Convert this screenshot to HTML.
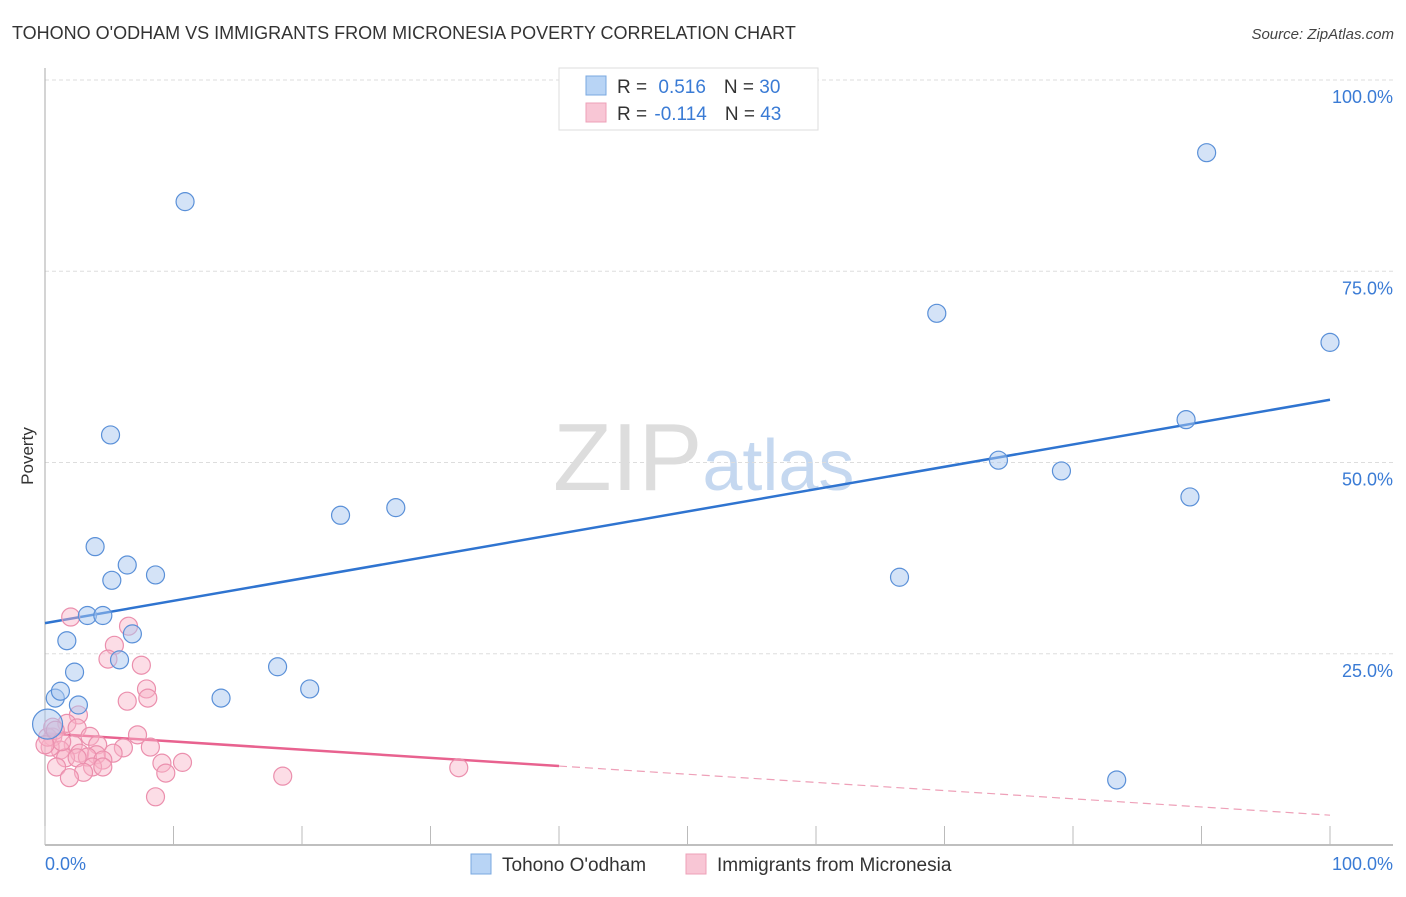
<!DOCTYPE html>
<html><head><meta charset="utf-8"><style>
body{margin:0;background:#fff;font-family:"Liberation Sans",sans-serif;}
svg text{font-family:"Liberation Sans",sans-serif;}
</style></head><body>
<svg id="chart" width="1406" height="892" xmlns="http://www.w3.org/2000/svg">
<text x="12" y="39" font-size="18" fill="#333">TOHONO O'ODHAM VS IMMIGRANTS FROM MICRONESIA POVERTY CORRELATION CHART</text>
<text x="1394" y="39" font-size="15" fill="#444" font-style="italic" text-anchor="end">Source: ZipAtlas.com</text>
<text x="553" y="490" font-size="96" font-family="Liberation Serif" fill="#ddd">ZIP<tspan fill="#c5d8f0" font-family="Liberation Sans" font-size="72">atlas</tspan></text>
<g id="grid"></g>
<g id="axes"></g>
<g id="trends"></g>
<g id="points"></g>
<text transform="translate(33,456) rotate(-90)" font-size="17" fill="#333" text-anchor="middle">Poverty</text>
<g>
<rect x="559" y="68" width="259" height="62" fill="#fff" stroke="#ddd"/>
<rect x="586" y="76" width="20" height="19" fill="#b8d4f5" stroke="#7aa8e0"/>
<rect x="586" y="103" width="20" height="19" fill="#f8c6d5" stroke="#eea0b8"/>
<text x="617" y="93" font-size="19" fill="#333">R = <tspan fill="#3a7bd5" dx="6">0.516</tspan><tspan dx="18" fill="#333">N = </tspan><tspan fill="#3a7bd5">30</tspan></text>
<text x="617" y="120" font-size="19" fill="#333">R = <tspan fill="#3a7bd5" dx="2">-0.114</tspan><tspan dx="18" fill="#333">N = </tspan><tspan fill="#3a7bd5">43</tspan></text>
</g>
<g>
<rect x="471" y="854" width="20" height="20" fill="#b8d4f5" stroke="#7aa8e0"/>
<text x="502" y="871" font-size="19" fill="#333">Tohono O'odham</text>
<rect x="686" y="854" width="20" height="20" fill="#f8c6d5" stroke="#eea0b8"/>
<text x="717" y="871" font-size="19" fill="#333">Immigrants from Micronesia</text>
</g>
</svg>
<script>
const yTicks=[25,50,75,100];
const yTickLabels=["25.0%","50.0%","75.0%","100.0%"];
const xTicks=[0,10,20,30,40,50,60,70,80,90,100];
const blueX=[10.9,90.4,69.4,100,5.1,88.8,74.2,79.1,89.1,23.0,27.3,3.9,6.4,5.2,8.6,66.5,3.3,4.5,1.7,6.8,5.8,2.3,18.1,20.6,0.8,1.2,13.7,2.6,83.4,0.2];
const blueY=[84.1,90.5,69.5,65.7,53.6,55.6,50.3,48.9,45.5,43.1,44.1,39.0,36.6,34.6,35.3,35.0,30.0,30.0,26.7,27.6,24.2,22.6,23.3,20.4,19.2,20.1,19.2,18.3,8.5,15.8];
const pinkX=[2.0,6.5,5.4,4.9,7.5,7.9,8.0,6.4,2.6,1.7,2.5,7.2,3.5,0.6,2.2,4.1,6.1,8.2,1.2,2.7,4.0,5.3,0.4,1.6,3.3,4.5,9.1,10.7,0.9,2.5,3.7,4.5,3.0,9.4,1.9,18.5,8.6,0.2,0.6,32.2,0.8,1.3,0.0];
const pinkY=[29.8,28.6,26.1,24.3,23.5,20.4,19.2,18.8,17.0,15.9,15.3,14.4,14.2,14.1,13.1,13.1,12.7,12.8,12.4,12.0,11.8,12.0,12.8,11.4,11.5,11.1,10.7,10.8,10.2,11.4,10.2,10.2,9.5,9.4,8.8,9.0,6.3,14.1,15.4,10.1,15.0,13.5,13.1];
const blueTrend=[29.0,58.2];
const pinkTrend=[14.6,3.9];
const pinkSolidEnd=40;
const sx=v=>45+v*12.85, sy=v=>845-v*7.65;
const NS="http://www.w3.org/2000/svg";
function mk(tag,attrs,parent){const e=document.createElementNS(NS,tag);for(const k in attrs)e.setAttribute(k,attrs[k]);document.getElementById(parent).appendChild(e);return e;}
yTicks.forEach((t,i)=>{
 const g=mk('line',{x1:45,x2:1393,y1:sy(t),y2:sy(t),stroke:'#ddd','stroke-dasharray':'4,3'},'grid');
 
 
 const l=mk('text',{x:1393,y:sy(t)+23,'font-size':18,fill:'#3a7bd5','text-anchor':'end'},'grid');
 l.textContent=yTickLabels[i];
 
 
});
const ya=mk('line',{x1:45,x2:45,y1:68,y2:845,stroke:'#aaa'},'axes');


const xa=mk('line',{x1:45,x2:1393,y1:845,y2:845,stroke:'#aaa','stroke-width':1.5},'axes');


xTicks.forEach(t=>{
 const tk=mk('line',{x1:sx(t),x2:sx(t),y1:826,y2:845,stroke:'#bbb'},'axes');
 
 
});
const x0=mk('text',{x:45,y:870,'font-size':18,fill:'#3a7bd5'},'axes');x0.textContent='0.0%';


const x1=mk('text',{x:1393,y:870,'font-size':18,fill:'#3a7bd5','text-anchor':'end'},'axes');x1.textContent='100.0%';


const bt=mk('line',{x1:sx(0),y1:sy(blueTrend[0]),x2:sx(100),y2:sy(blueTrend[1]),stroke:'#2f74d0','stroke-width':2.5},'trends');


const pAt=v=>pinkTrend[0]+(pinkTrend[1]-pinkTrend[0])*v/100;
const ps=mk('line',{x1:sx(0),y1:sy(pAt(0)),x2:sx(pinkSolidEnd),y2:sy(pAt(pinkSolidEnd)),stroke:'#e8628f','stroke-width':2.5},'trends');


const pd=mk('line',{x1:sx(pinkSolidEnd),y1:sy(pAt(pinkSolidEnd)),x2:sx(100),y2:sy(pAt(100)),stroke:'#eea0b8','stroke-width':1.2,'stroke-dasharray':'8,5'},'trends');


pinkX.forEach((x,i)=>{
 const c=mk('circle',{cx:sx(x),cy:sy(pinkY[i]),r:9,fill:'rgba(248,180,200,0.45)',stroke:'#eb8fad','stroke-width':1.2},'points');
 
 
});
blueX.forEach((x,i)=>{
 const c=mk('circle',{cx:sx(x),cy:sy(blueY[i]),r:i===blueX.length-1?15:9,fill:'rgba(170,200,240,0.5)',stroke:'#5a90d8','stroke-width':1.2},'points');
 
 
});
</script>
</body></html>
